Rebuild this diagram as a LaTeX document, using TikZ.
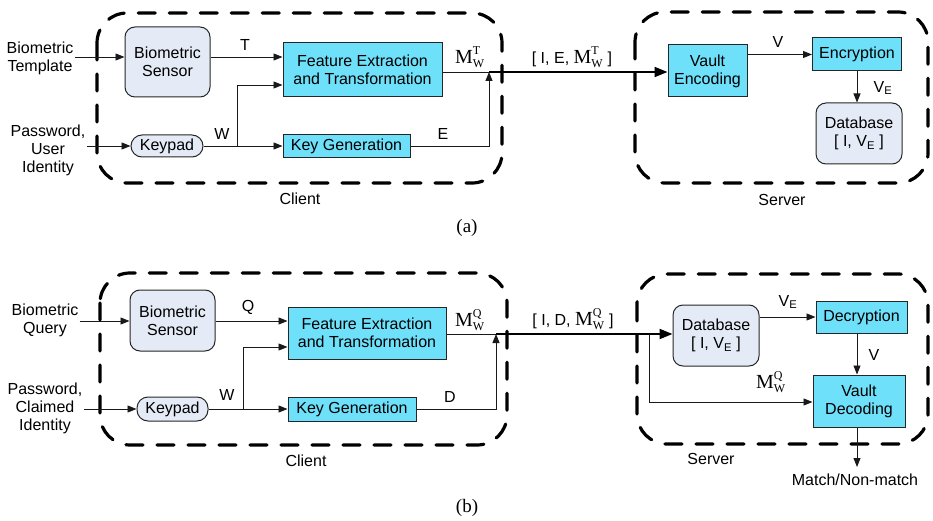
\documentclass[tikz,border=0pt]{standalone}
\usepackage{fontspec}
\setmainfont{Liberation Sans}
\newfontfamily\serif{Liberation Serif}
\usetikzlibrary{arrows.meta}
\definecolor{boxcyan}{RGB}{110,224,250}
\definecolor{boxpale}{RGB}{228,235,246}
\newcommand\MWsym[1]{\ensuremath{\mbox{\serif\fontsize{20}{20}\selectfont M}_{\mbox{\serif\fontsize{12}{12}\selectfont W}}^{\mbox{\serif\fontsize{12}{12}\selectfont #1}}}}
\begin{document}
\begin{tikzpicture}[x=1pt,y=-1pt,
  every node/.style={font=\fontsize{16}{18}\selectfont, inner sep=1pt},
  cyanbox/.style={draw=black!85, line width=1pt, fill=boxcyan, align=center, inner sep=0pt},
  palebox/.style={draw=black!85, line width=1pt, fill=boxpale, align=center, inner sep=0pt, rounded corners=10pt},
  padbox/.style={draw=black!85, line width=1pt, fill=boxpale, align=center, inner sep=0pt, rounded corners=11pt},
  dashbox/.style={line width=3.2pt, dash pattern=on 17pt off 14pt, line cap=round, rounded corners=30pt},
  arr/.style={line width=0.9pt, draw=black!90, -{Triangle[length=9pt,width=7pt]}},
  conn/.style={line width=0.9pt, draw=black!90},
  bigarr/.style={line width=2pt, -{Triangle[length=13pt,width=10pt]}},
  lbl/.style={inner sep=0pt},
  captext/.style={font=\serif\fontsize{19}{21}\selectfont}
]
\useasboundingbox (0,0) rectangle (933,521);

% ================= (a) =================
\draw[dashbox] (97,13) rectangle (502,183);
\draw[dashbox] (635,12) rectangle (928,183);

\node[align=center] (inA1) at (40,58) {Biometric\\Template};
\node[align=center] (inA2) at (48,150) {Password,\\User\\Identity};

\node[palebox, minimum width=85pt, minimum height=70pt] (sensA) at (167.5,62) {Biometric\\Sensor};
\node[cyanbox, minimum width=159pt, minimum height=54pt] (feA) at (362.5,70) {Feature Extraction\\and Transformation};
\node[padbox, minimum width=72pt, minimum height=22pt] (keyA) at (167,146) {Keypad};
\node[cyanbox, minimum width=127pt, minimum height=23pt] (kgA) at (346.5,146) {Key Generation};
\node[cyanbox, minimum width=79pt, minimum height=52pt] (vaultA) at (707.5,71) {Vault\\Encoding};
\node[cyanbox, minimum width=89pt, minimum height=33pt] (encA) at (857,54.5) {Encryption};
\node[palebox, minimum width=86pt, minimum height=61pt] (dbA) at (859,133.5) {Database\\{[} I, V\textsubscript{E} ]};

\coordinate (brA) at (237,146);
\coordinate (jA) at (489,72);

\draw[arr] (inA1.east |- 0,57) -- (sensA.west |- 0,57);
\draw[arr] (sensA.east |- 0,57) -- (feA.west |- 0,57);
\draw[arr] (inA2.east |- keyA.west) -- (keyA.west);
\draw[arr] (keyA.east) -- (kgA.west);
\draw[arr] (brA) |- (feA.west |- 0,85);
\draw[arr] (kgA.east) -| (jA);
\draw[conn] (feA.east |- jA) -- (jA);
\draw[bigarr] (jA) -- (vaultA.west |- jA);
\draw[arr] (vaultA.east |- encA.west) -- (encA.west);
\draw[arr] (encA.south) -- (encA.south |- dbA.north);

\node[lbl] (tA) at (245,45) {T};
\node[lbl] (wA) at (222,134) {W};
\node[lbl] (eA) at (443,134) {E};
\node[lbl] (mA) at (470,57) {\MWsym{T}};
\node[lbl] (trA) at (572,57) {[ I, E, \MWsym{T} ]};
\node[lbl] (vA) at (778,42) {V};
\node[lbl] (veA) at (883,88) {V\textsubscript{E}};
\node[lbl] (clA) at (300,199) {Client};
\node[lbl] (svA) at (782,200) {Server};
\node[lbl, captext] (capA) at (467,228) {(a)};

% ================= (b) =================
\draw[dashbox] (100,273) rectangle (507,445);
\draw[dashbox] (637,274) rectangle (928,444);

\node[align=center] (inB1) at (45,320) {Biometric\\Query};
\node[align=center] (inB2) at (45,408) {Password,\\Claimed\\Identity};

\node[palebox, minimum width=85pt, minimum height=61pt] (sensB) at (172.5,320.5) {Biometric\\Sensor};
\node[cyanbox, minimum width=158pt, minimum height=52pt] (feB) at (367,333) {Feature Extraction\\and Transformation};
\node[padbox, minimum width=71pt, minimum height=24pt] (keyB) at (172.5,409) {Keypad};
\node[cyanbox, minimum width=128pt, minimum height=24pt] (kgB) at (352,409) {Key Generation};
\node[palebox, minimum width=86pt, minimum height=61pt] (dbB) at (716,335.5) {Database\\{[} I, V\textsubscript{E} ]};
\node[cyanbox, minimum width=91pt, minimum height=32pt] (decB) at (861.5,317) {Decryption};
\node[cyanbox, minimum width=92pt, minimum height=52pt] (vdB) at (859,401) {Vault\\Decoding};

\coordinate (brB) at (243,409);
\coordinate (jB) at (496,334);
\coordinate (sB) at (649,334);
\coordinate (outB) at (857,467);

\draw[arr] (inB1.east |- 0,321) -- (sensB.west |- 0,321);
\draw[arr] (sensB.east |- 0,321) -- (feB.west |- 0,321);
\draw[arr] (inB2.east |- keyB.west) -- (keyB.west);
\draw[arr] (keyB.east) -- (kgB.west);
\draw[arr] (brB) |- (feB.west |- 0,347);
\draw[arr] (kgB.east) -| (jB);
\draw[conn] (feB.east |- jB) -- (jB);
\draw[bigarr] (jB) -- (dbB.west |- jB);
\draw[arr] (sB) |- (vdB.west |- 0,402);
\draw[arr] (dbB.east |- decB.west) -- (decB.west);
\draw[arr] (decB.south -| 857,0) -- (vdB.north -| 857,0);
\draw[arr] (vdB.south -| outB) -- (outB);

\node[lbl] (qB) at (248,307) {Q};
\node[lbl] (wB) at (227,395) {W};
\node[lbl] (dB) at (450,397) {D};
\node[lbl] (mB) at (470,320) {\MWsym{Q}};
\node[lbl] (trB) at (573,319) {[ I, D, \MWsym{Q} ]};
\node[lbl] (m2B) at (771,382) {\MWsym{Q}};
\node[lbl] (veB) at (788,302) {V\textsubscript{E}};
\node[lbl] (vB) at (874,355) {V};
\node[lbl] (mmB) at (855,480) {Match/Non-match};
\node[lbl] (clB) at (306,461) {Client};
\node[lbl] (svB) at (711,459) {Server};
\node[lbl, captext] (capB) at (467,508) {(b)};
\end{tikzpicture}
\end{document}
